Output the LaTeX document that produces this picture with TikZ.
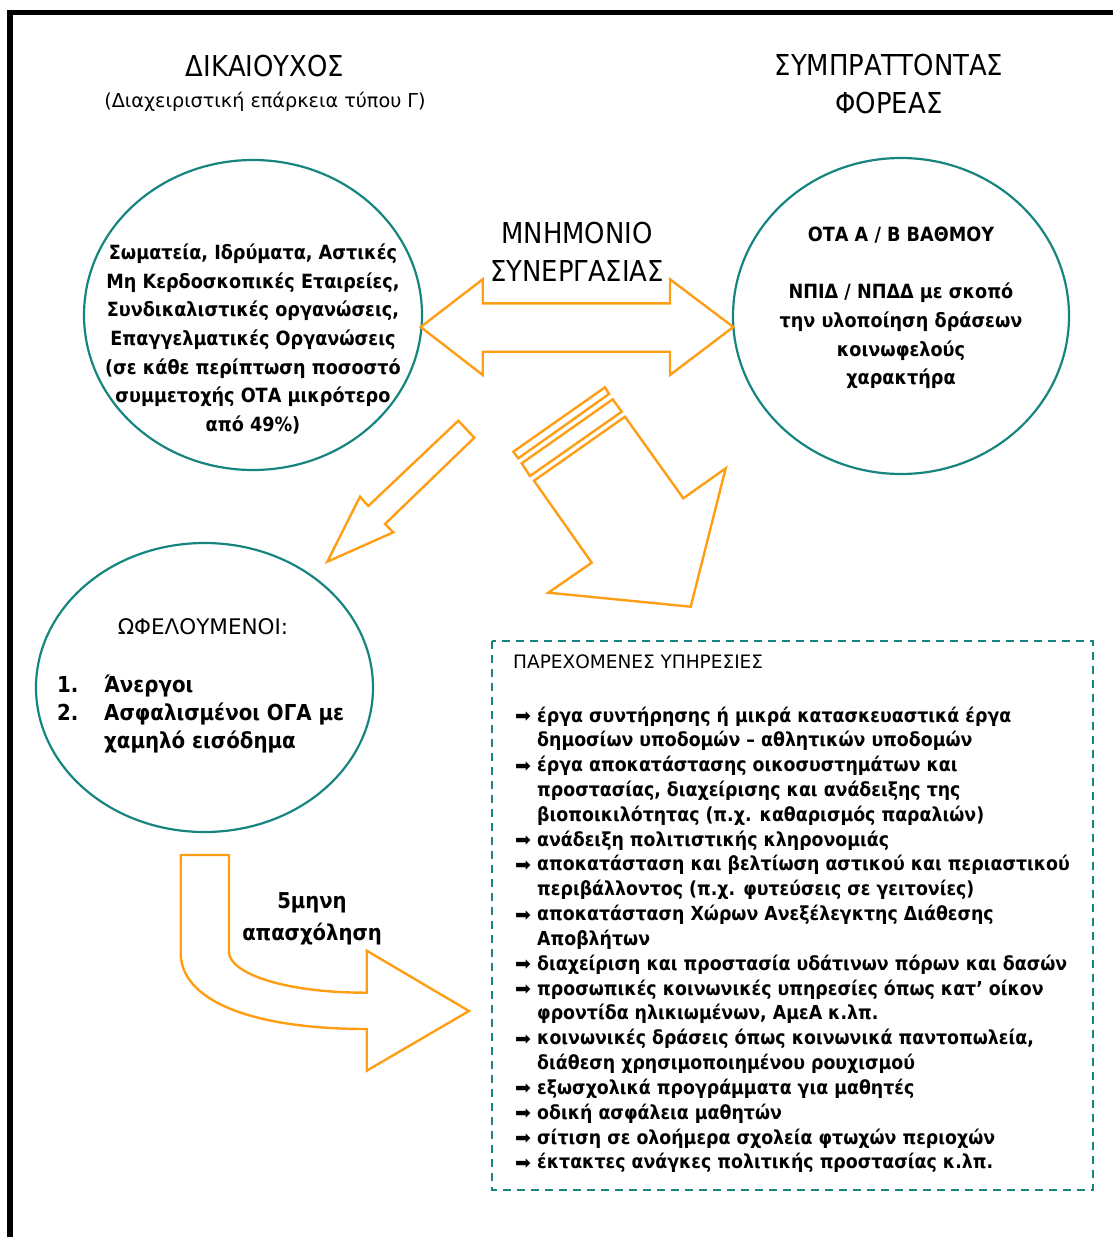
\documentclass[tikz,border=0pt]{standalone}
\usepackage{fontspec}
\setmainfont{DejaVu Sans Condensed}
\newfontfamily\symfont{DejaVu Sans}
\newfontfamily\widefont{DejaVu Sans}
\usetikzlibrary{shapes.geometric}
\definecolor{tealline}{RGB}{22,133,128}
\definecolor{orangeline}{RGB}{255,158,20}

\begin{document}
\begin{tikzpicture}[x=1pt, y=-1pt,
    blob/.style={draw=tealline, line width=2.2pt, ellipse, inner sep=0pt},
    bigarrow/.style={draw=orangeline, line width=2.4pt, line join=miter},
    headline/.style={font=\fontsize{28.8}{38}\selectfont, align=center, inner sep=0pt},
    bodytext/.style={font=\bfseries\fontsize{19.6}{28.7}\selectfont, align=center, inner sep=0pt},
    ofeltext/.style={font=\bfseries\fontsize{22}{26}\selectfont, anchor=base west, inner sep=0pt},
    listtext/.style={font=\bfseries\fontsize{19.3}{24.8}\selectfont, anchor=base west, inner sep=0pt}]
    \useasboundingbox (0,0) rectangle (1113,1237);

    % Frame
    \draw[line width=5.5pt] (10,1237) -- (10,12.5) -- (1113,12.5);

    % Titles
    \node[headline] (dikt) at (265,66) {ΔΙΚΑΙΟΥΧΟΣ};
    \node[font=\widefont\fontsize{19.2}{22}\selectfont, inner sep=0pt] (diksub) at (265,102) {(Διαχειριστική επάρκεια τύπου Γ)};
    \node[headline] (sympt) at (889,84) {ΣΥΜΠΡΑΤΤΟΝΤΑΣ\\ΦΟΡΕΑΣ};
    \node[headline] (mnim) at (577,252) {ΜΝΗΜΟΝΙΟ\\ΣΥΝΕΡΓΑΣΙΑΣ};

    % Circles
    \node[blob, minimum width=338pt, minimum height=310pt] (dik) at (253,315) {};
    \node[blob, minimum width=336pt, minimum height=316pt] (symp) at (901,316) {};
    \node[blob, minimum width=337pt, minimum height=289pt] (ofel) at (204.5,687.5) {};

    \node[bodytext] (diktxt) at (253,339) {Σωματεία, Ιδρύματα, Αστικές\\Μη Κερδοσκοπικές Εταιρείες,\\Συνδικαλιστικές οργανώσεις,\\Επαγγελματικές Οργανώσεις\\(σε κάθε περίπτωση ποσοστό\\συμμετοχής ΟΤΑ μικρότερο\\από 49\%)};
    \node[bodytext] (symptxt) at (901,308) {ΟΤΑ Α / Β ΒΑΘΜΟΥ\\[28.7pt]ΝΠΙΔ / ΝΠΔΔ με σκοπό\\την υλοποίηση δράσεων\\κοινωφελούς\\χαρακτήρα};

    \node[font=\widefont\fontsize{21.5}{24}\selectfont, inner sep=0pt] (ofelt) at (203,627) {ΩΦΕΛΟΥΜΕΝΟΙ:};
    \node[ofeltext] (num1) at (57,692) {1.};
    \node[ofeltext] (num2) at (57,720) {2.};
    \node[ofeltext] (ofel1) at (104,692) {Άνεργοι};
    \node[ofeltext] (ofel2) at (104,720) {Ασφαλισμένοι ΟΓΑ με};
    \node[ofeltext] (ofel3) at (104,748) {χαμηλό εισόδημα};

    % Double arrow
    \draw[bigarrow] (420.7,327) -- (482.7,279.3) -- (482.7,303.3) -- (670,303.3) -- (670,279.3)
        -- (733.3,327) -- (670,375) -- (670,351.7) -- (482.7,351.7) -- (482.7,375) -- cycle;

    % Diagonal arrows
    \draw[bigarrow] (458.3,420.7) -- (474.3,437.7) -- (385,524) -- (393.3,532.3) -- (327.3,561.7)
        -- (360,496.7) -- (368.3,506) -- cycle;
    \draw[bigarrow] (605,387.3) -- (609,394) -- (518.3,458.3) -- (513.3,451.7) -- cycle;
    \draw[bigarrow] (612.7,399.3) -- (621.7,411.7) -- (530,476) -- (521.7,463.3) -- cycle;
    \draw[bigarrow] (625,416.7) -- (683.3,498.3) -- (725.7,468.3) -- (690.7,606.7) -- (548.3,592.7)
        -- (591.7,562.7) -- (534,480.7) -- cycle;

    % Curved arrow
    \draw[bigarrow] (180.7,855) -- (229,855) -- (229,952) .. controls (229,972) and (280,992.7) .. (366.7,992.7)
        -- (366.7,950.7) -- (469,1011) -- (366.7,1070.7) -- (366.7,1029)
        .. controls (250,1029) and (180.7,1000) .. (180.7,953) -- cycle;
    \node[bodytext, font=\bfseries\fontsize{21.8}{32}\selectfont] (apas) at (312,919) {5μηνη\\απασχόληση};

    % Services box
    \draw[tealline, line width=2pt, dash pattern=on 8pt off 6pt] (492,641) rectangle (1093,1190);
    \node[font=\widefont\fontsize{18.5}{20}\selectfont, anchor=west, inner sep=0pt] (parex) at (513,662) {ΠΑΡΕΧΟΜΕΝΕΣ ΥΠΗΡΕΣΙΕΣ};

    \foreach \t [count=\i] in {
        {έργα συντήρησης ή μικρά κατασκευαστικά έργα},
        {δημοσίων υποδομών – αθλητικών υποδομών},
        {έργα αποκατάστασης οικοσυστημάτων και},
        {προστασίας, διαχείρισης και ανάδειξης της},
        {βιοποικιλότητας (π.χ. καθαρισμός παραλιών)},
        {ανάδειξη πολιτιστικής κληρονομιάς},
        {αποκατάσταση και βελτίωση αστικού και περιαστικού},
        {περιβάλλοντος (π.χ. φυτεύσεις σε γειτονίες)},
        {αποκατάσταση Χώρων Ανεξέλεγκτης Διάθεσης},
        {Αποβλήτων},
        {διαχείριση και προστασία υδάτινων πόρων και δασών},
        {προσωπικές κοινωνικές υπηρεσίες όπως κατ’ οίκον},
        {φροντίδα ηλικιωμένων, ΑμεΑ κ.λπ.},
        {κοινωνικές δράσεις όπως κοινωνικά παντοπωλεία,},
        {διάθεση χρησιμοποιημένου ρουχισμού},
        {εξωσχολικά προγράμματα για μαθητές},
        {οδική ασφάλεια μαθητών},
        {σίτιση σε ολοήμερα σχολεία φτωχών περιοχών},
        {έκτακτες ανάγκες πολιτικής προστασίας κ.λπ.}}
        \node[listtext] (serv\i) at (537,{722+(\i-1)*24.83}) {\t};

    % Bullets
    \foreach \i in {1,3,6,7,9,11,12,14,16,17,18,19}
        \node[listtext, font=\symfont\fontsize{19}{24}\selectfont] (bul\i) at (515,{722.5+(\i-1)*24.83}) {➡};
\end{tikzpicture}
\end{document}
